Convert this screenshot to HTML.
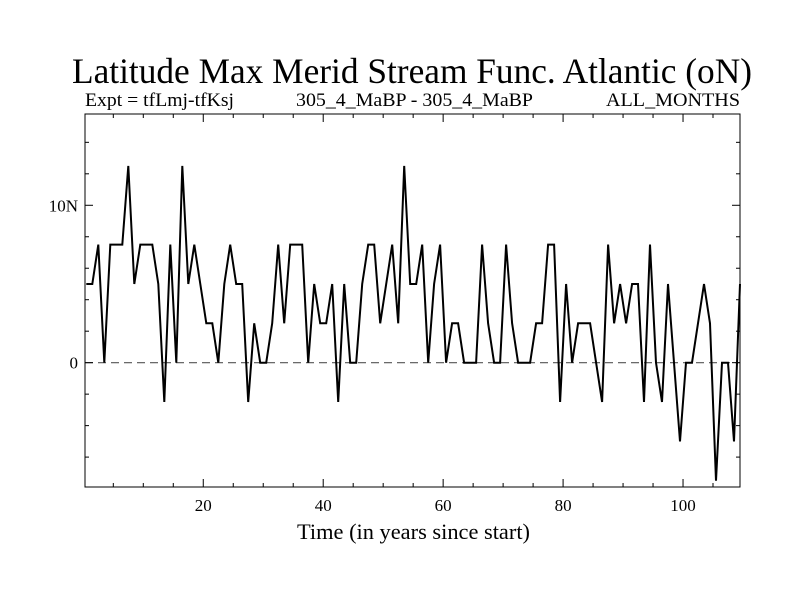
<!DOCTYPE html>
<html><head><meta charset="utf-8"><style>
html,body{margin:0;padding:0;background:#fff;}
svg{display:block;font-family:"Liberation Serif",serif;}
</style></head><body>
<svg id="chart" width="800" height="600" viewBox="0 0 800 600">
<rect width="800" height="600" fill="#fff"/>
<text x="72" y="83" font-size="36" textLength="680" lengthAdjust="spacingAndGlyphs">Latitude Max Merid Stream Func. Atlantic (oN)</text>
<text x="85" y="106" font-size="19" textLength="149" lengthAdjust="spacingAndGlyphs">Expt = tfLmj-tfKsj</text>
<text x="296" y="106" font-size="19" textLength="237" lengthAdjust="spacingAndGlyphs">305_4_MaBP - 305_4_MaBP</text>
<text x="606" y="106" font-size="19" textLength="134" lengthAdjust="spacingAndGlyphs">ALL_MONTHS</text>
<text x="297" y="539" font-size="22" textLength="233" lengthAdjust="spacingAndGlyphs">Time (in years since start)</text>
<g id="plot"></g>
</svg>
<script>
const values = [5,5,7.5,0,7.5,7.5,7.5,12.5,5,7.5,7.5,7.5,5,-2.5,7.5,0,12.5,5,7.5,5,
2.5,2.5,0,5,7.5,5,5,-2.5,2.5,0,0,2.5,7.5,2.5,7.5,7.5,7.5,0,5,2.5,
2.5,5,-2.5,5,0,0,5,7.5,7.5,2.5,5,7.5,2.5,12.5,5,5,7.5,0,5,7.5,
0,2.5,2.5,0,0,0,7.5,2.5,0,0,7.5,2.5,0,0,0,2.5,2.5,7.5,7.5,-2.5,
5,0,2.5,2.5,2.5,0,-2.5,7.5,2.5,5,2.5,5,5,-2.5,7.5,0,-2.5,5,0,-5,
0,0,2.5,5,2.5,-7.5,0,0,-5,5];
const xTickLabels = ["20","40","60","80","100"];
const xTickValues = [20,40,60,80,100];
const yTickLabels = ["10N","0"];
const yTickValues = [10,0];

const L=85,R=740,T=114,B=487;
const xMin=0.28,xMax=109.5,yMin=-7.9,yMax=15.8;
const sx=v=>L+(v-xMin)/(xMax-xMin)*(R-L);
const sy=v=>B-(v-yMin)/(yMax-yMin)*(B-T);
const NS="http://www.w3.org/2000/svg";
const g=document.getElementById('plot');
function mk(tag,attrs){const e=document.createElementNS(NS,tag);for(const k in attrs)e.setAttribute(k,attrs[k]);g.appendChild(e);return e;}

const z=mk('line',{x1:L,x2:R,y1:sy(0),y2:sy(0),stroke:'#555','stroke-width':1.2,'stroke-dasharray':'8,5'});



for(let t=5;t<xMax;t+=5){
  const major=t%20===0, len=major?8:4, x=sx(t);
  const a=mk('line',{x1:x,x2:x,y1:B,y2:B-len,stroke:'#000','stroke-width':1});
  
  
  const b=mk('line',{x1:x,x2:x,y1:T,y2:T+len,stroke:'#000','stroke-width':1});
  
  
}
xTickValues.forEach((v,i)=>{
  const t=mk('text',{x:sx(v),y:511,'font-size':17,'text-anchor':'middle'});
  t.textContent=xTickLabels[i];
  
  
});
for(let v=-6;v<yMax;v+=2){
  const major=v%10===0, len=major?8:4, y=sy(v);
  const a=mk('line',{x1:L,x2:L+len,y1:y,y2:y,stroke:'#000','stroke-width':1});
  
  
  const b=mk('line',{x1:R,x2:R-len,y1:y,y2:y,stroke:'#000','stroke-width':1});
  
  
}
yTickValues.forEach((v,i)=>{
  const t=mk('text',{x:78,y:sy(v)+6,'font-size':17,'text-anchor':'end'});
  t.textContent=yTickLabels[i];
  
  
});

const pts=values.map((v,i)=>sx(i+0.5).toFixed(1)+','+sy(v).toFixed(1));
const pl=mk('polyline',{points:pts.join(' '),fill:'none',stroke:'#000','stroke-width':2,'stroke-linejoin':'miter'});



const fr=mk('rect',{x:L,y:T,width:R-L,height:B-T,fill:'none',stroke:'#000','stroke-width':1});


</script>
</body></html>
